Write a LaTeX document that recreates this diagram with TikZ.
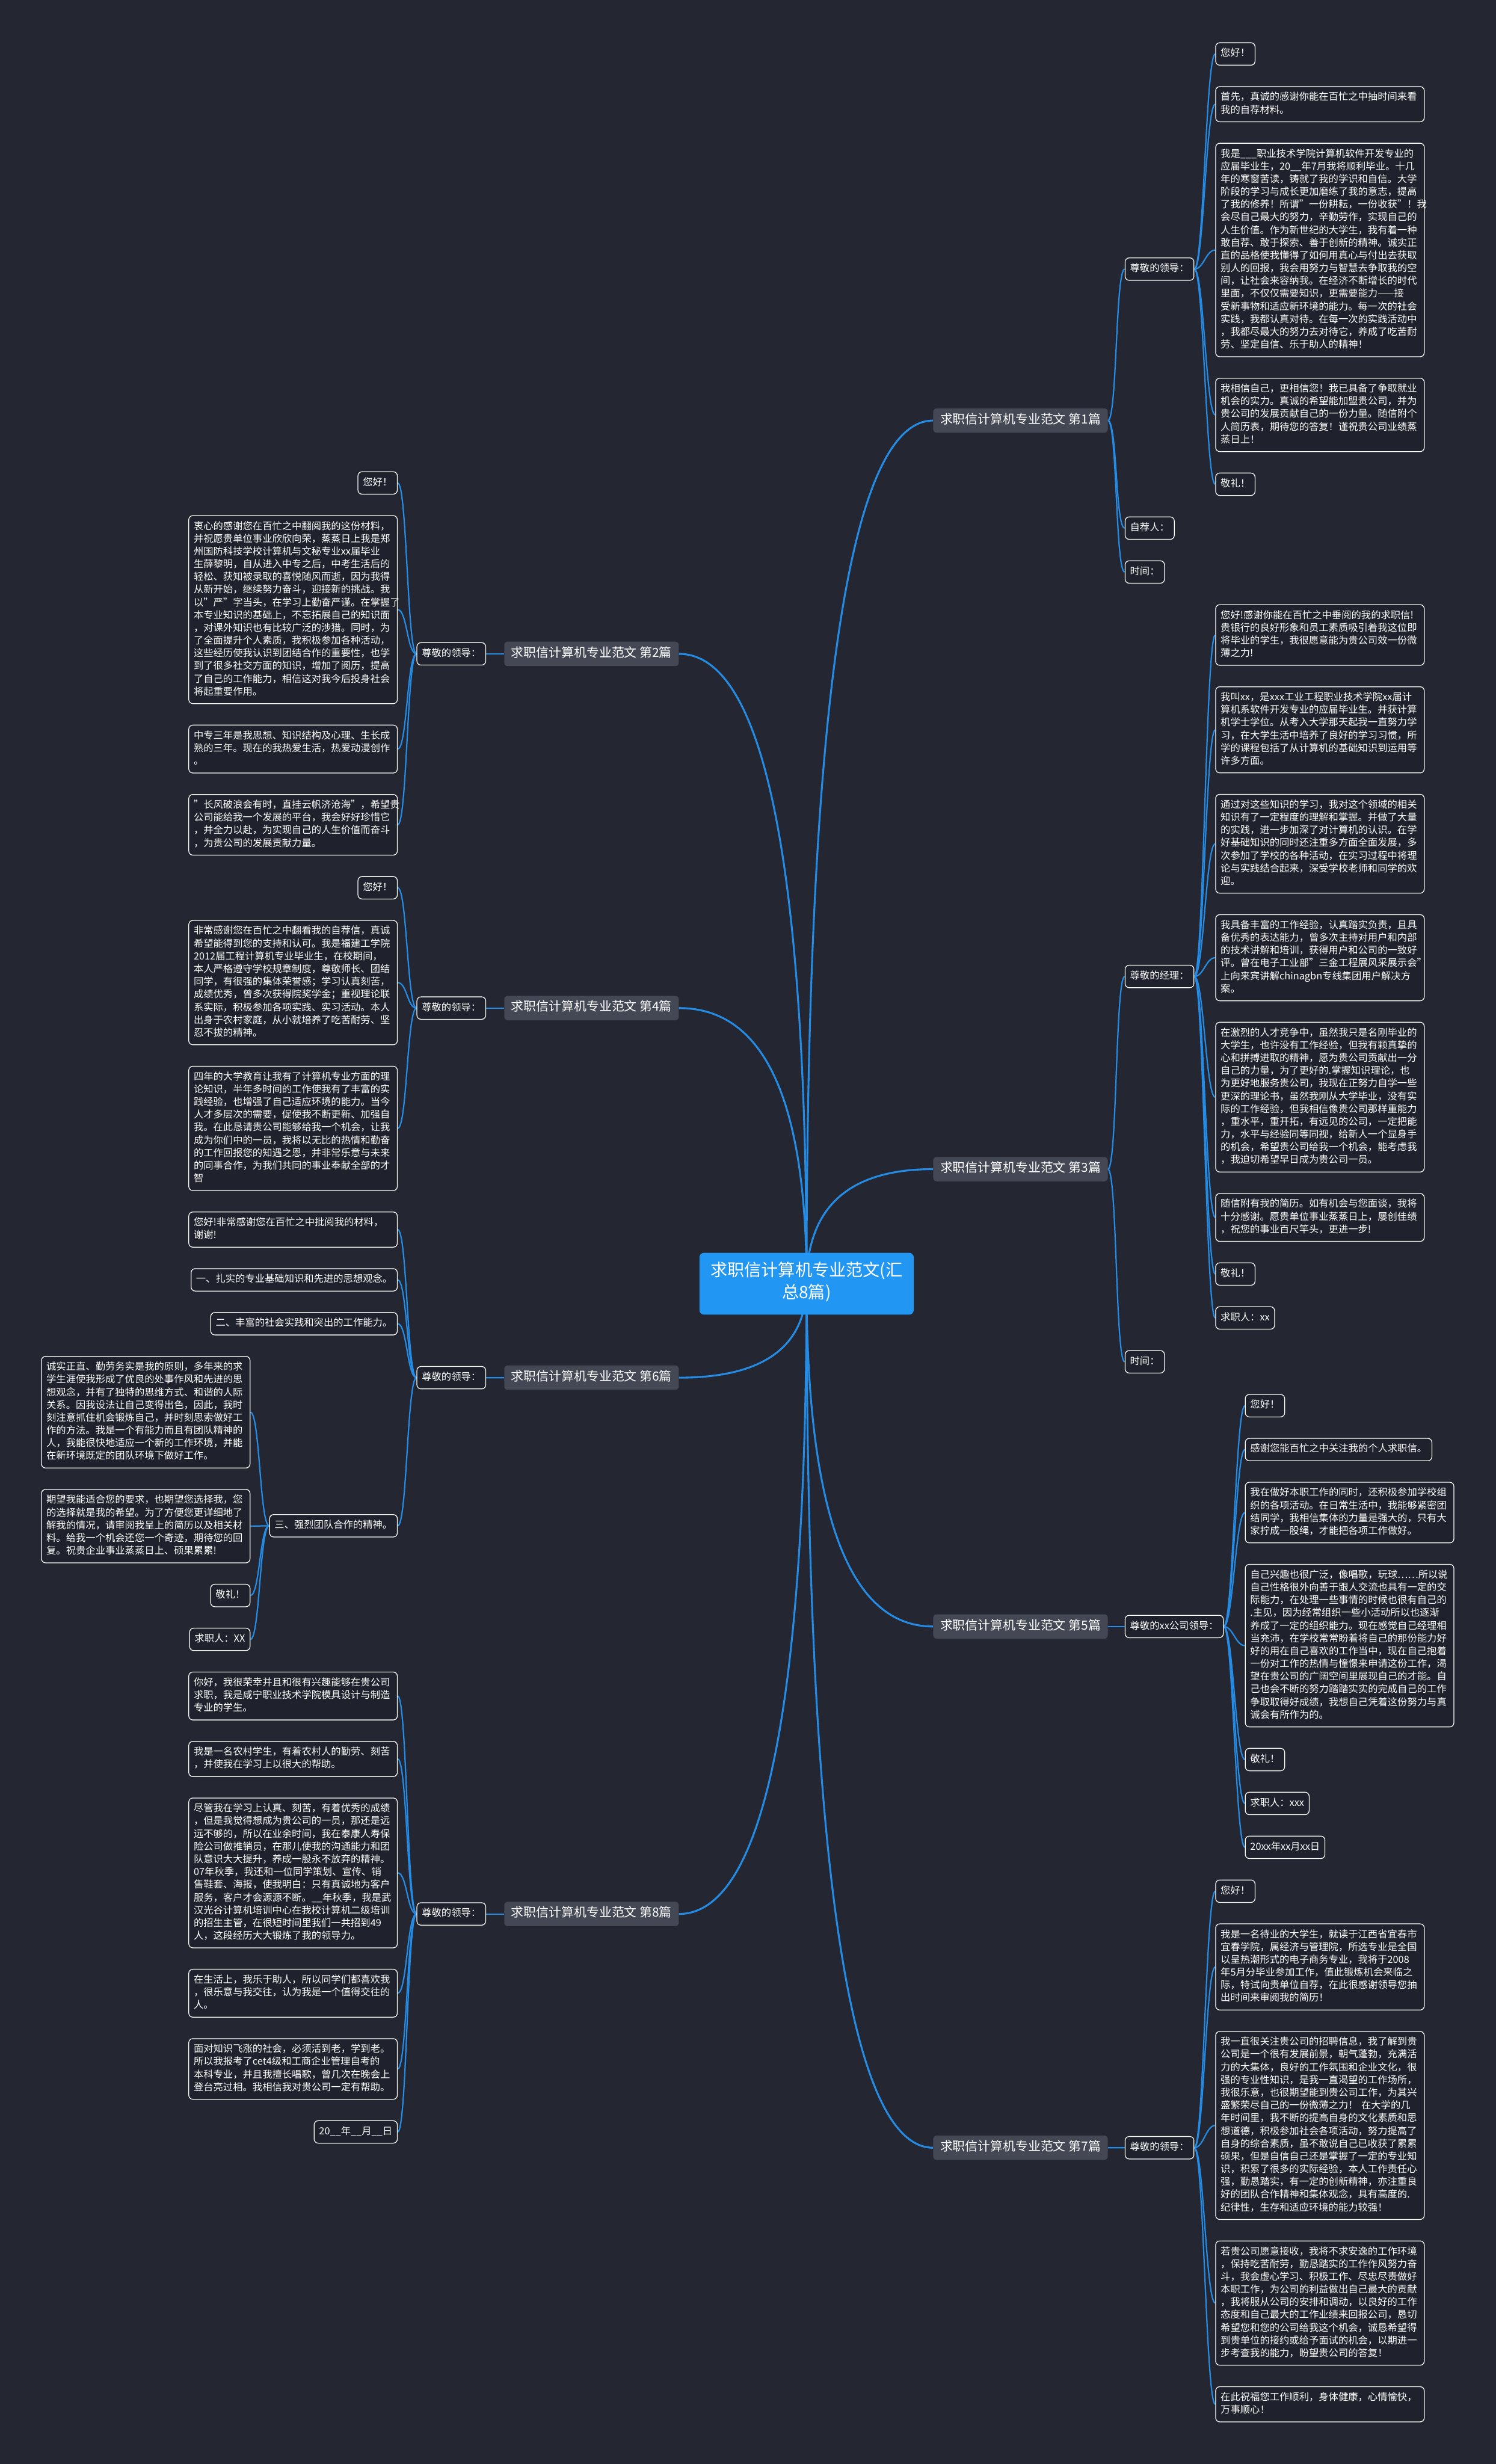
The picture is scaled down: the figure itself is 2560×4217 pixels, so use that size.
\documentclass[tikz,border=0pt]{standalone}
\usepackage{fontspec}
\setmainfont{Noto Sans CJK SC}
\usetikzlibrary{calc,positioning}
\definecolor{bgc}{RGB}{36,39,50}
\definecolor{boxc}{RGB}{31,34,44}
\definecolor{brc}{RGB}{68,72,85}
\definecolor{ctrc}{RGB}{33,150,243}
\definecolor{lnc}{RGB}{36,140,228}
\pgfdeclarelayer{bgl}\pgfdeclarelayer{lnk}\pgfsetlayers{bgl,lnk,main}
\newcommand\myfs{\fontsize{16.8}{21.8}\selectfont}
\newcommand\myfb{\fontsize{21.5}{25}\selectfont}
\newcommand\myfc{\fontsize{29}{38}\selectfont}
\newcommand\gapv{35.4pt}
\newcommand\stR[5]{\coordinate (#1t) at ([yshift=-\gapv]#2.south);\node[#4,anchor=north west] (#1) at (#1t -| #3) {#5};}
\newcommand\stL[5]{\coordinate (#1t) at ([yshift=-\gapv]#2.south);\node[#4,anchor=north east] (#1) at (#1t -| #3) {#5};}
\newcommand\paR[6]{\coordinate (#1m) at ($(#2.center)!0.5!(#3.center)$);\node[#5,anchor=west] (#1) at (#1m -| #4) {#6};}
\newcommand\paL[6]{\coordinate (#1m) at ($(#2.center)!0.5!(#3.center)$);\node[#5,anchor=east] (#1) at (#1m -| #4) {#6};}
\newcommand\lkR[2]{\draw[subl] (#1.east) .. controls +(16,0) and +(-16,0) .. (#2.west);}
\newcommand\lkL[2]{\draw[subl] (#1.west) .. controls +(-16,0) and +(16,0) .. (#2.east);}
\newcommand\lkM[1]{\draw[mainl] (ctr.center) .. controls ($(ctr.center)!0.667!(ctr.center |- #1)$) and ($(#1)!0.667!(ctr.center |- #1)$) .. (#1);}
\begin{document}
\begin{tikzpicture}[x=1pt,y=1pt,
  sbox/.style={draw=white, line width=1.3pt, fill=boxc, rounded corners=7pt, text=white, font=\myfs, inner xsep=8.5pt, inner ysep=8.3pt, execute at begin node=\strut, execute at end node=\strut},
  tbox/.style={sbox, text width=340pt, align=left},
  brs/.style={fill=brc, rounded corners=6pt, text=white, font=\myfb, inner xsep=12pt, inner ysep=8pt, execute at begin node=\strut, execute at end node=\strut},
  ctrs/.style={fill=ctrc, rounded corners=8pt, text=white, font=\myfc, align=center, inner xsep=19pt, inner ysep=16pt, execute at begin node=\strut, execute at end node=\strut},
  mainl/.style={draw=lnc, line width=3.2pt},
  subl/.style={draw=lnc, line width=2.3pt}]
\begin{pgfonlayer}{bgl}
\fill[bgc] (0,0) rectangle (2560,-4217);
\end{pgfonlayer}
\useasboundingbox (0,0) rectangle (2560,-4217);
\coordinate (xR3) at (2080,0);
\coordinate (xR3b) at (2130.7,0);
\coordinate (xR2) at (1925,0);
\coordinate (xRB) at (1597,0);
\coordinate (xL3) at (680.7,0);
\coordinate (xL4) at (428.6,0);
\coordinate (xL2) at (832,0);
\coordinate (xLB) at (1162,0);

\node[ctrs] (ctr) at (1380.5,-2197) {求职信计算机专业范文(汇\\总8篇)};

% ---------------- right side ----------------
\node[sbox,anchor=north west] (a1) at (2080,-72.5) {您好！};
\stR{a2}{a1}{xR3}{tbox}{首先，真诚的感谢你能在百忙之中抽时间来看\\我的自荐材料。}
\stR{a3}{a2}{xR3}{tbox}{我是\_\_\_职业技术学院计算机软件开发专业的\\应届毕业生，20\_\_年7月我将顺利毕业。十几\\年的寒窗苦读，铸就了我的学识和自信。大学\\阶段的学习与成长更加磨练了我的意志，提高\\了我的修养！所谓"一份耕耘，一份收获"！我\\会尽自己最大的努力，辛勤劳作，实现自己的\\人生价值。作为新世纪的大学生，我有着一种\\敢自荐、敢于探索、善于创新的精神。诚实正\\直的品格使我懂得了如何用真心与付出去获取\\别人的回报，我会用努力与智慧去争取我的空\\间，让社会来容纳我。在经济不断增长的时代\\里面，不仅仅需要知识，更需要能力——接\\受新事物和适应新环境的能力。每一次的社会\\实践，我都认真对待。在每一次的实践活动中\\，我都尽最大的努力去对待它，养成了吃苦耐\\劳、坚定自信、乐于助人的精神！}
\stR{a4}{a3}{xR3}{tbox}{我相信自己，更相信您！我已具备了争取就业\\机会的实力。真诚的希望能加盟贵公司，并为\\贵公司的发展贡献自己的一份力量。随信附个\\人简历表，期待您的答复！谨祝贵公司业绩蒸\\蒸日上！}
\stR{a5}{a4}{xR3}{sbox}{敬礼！}
\stR{a6}{a5}{xR2}{sbox}{自荐人：}
\stR{a7}{a6}{xR2}{sbox}{时间：}
\stR{c1}{a7}{xR3}{tbox}{您好!感谢你能在百忙之中垂阅的我的求职信!\\贵银行的良好形象和员工素质吸引着我这位即\\将毕业的学生，我很愿意能为贵公司效一份微\\薄之力!}
\stR{c2}{c1}{xR3}{tbox}{我叫xx，是xxx工业工程职业技术学院xx届计\\算机系软件开发专业的应届毕业生。并获计算\\机学士学位。从考入大学那天起我一直努力学\\习，在大学生活中培养了良好的学习习惯，所\\学的课程包括了从计算机的基础知识到运用等\\许多方面。}
\stR{c3}{c2}{xR3}{tbox}{通过对这些知识的学习，我对这个领域的相关\\知识有了一定程度的理解和掌握。并做了大量\\的实践，进一步加深了对计算机的认识。在学\\好基础知识的同时还注重多方面全面发展，多\\次参加了学校的各种活动，在实习过程中将理\\论与实践结合起来，深受学校老师和同学的欢\\迎。}
\stR{c4}{c3}{xR3}{tbox}{我具备丰富的工作经验，认真踏实负责，且具\\备优秀的表达能力，曾多次主持对用户和内部\\的技术讲解和培训，获得用户和公司的一致好\\评。曾在电子工业部"三金工程展风采展示会"\\上向来宾讲解chinagbn专线集团用户解决方\\案。}
\stR{c5}{c4}{xR3}{tbox}{在激烈的人才竞争中，虽然我只是名刚毕业的\\大学生，也许没有工作经验，但我有颗真挚的\\心和拼搏进取的精神，愿为贵公司贡献出一分\\自己的力量，为了更好的.掌握知识理论，也\\为更好地服务贵公司，我现在正努力自学一些\\更深的理论书，虽然我刚从大学毕业，没有实\\际的工作经验，但我相信像贵公司那样重能力\\，重水平，重开拓，有远见的公司，一定把能\\力，水平与经验同等同视，给新人一个显身手\\的机会，希望贵公司给我一个机会，能考虑我\\，我迫切希望早日成为贵公司一员。}
\stR{c6}{c5}{xR3}{tbox}{随信附有我的简历。如有机会与您面谈，我将\\十分感谢。愿贵单位事业蒸蒸日上，屡创佳绩\\，祝您的事业百尺竿头，更进一步!}
\stR{c7}{c6}{xR3}{sbox}{敬礼！}
\stR{c8}{c7}{xR3}{sbox}{求职人：xx}
\stR{c9}{c8}{xR2}{sbox}{时间：}
\stR{e1}{c9}{xR3b}{sbox}{您好！}
\stR{e2}{e1}{xR3b}{sbox}{感谢您能百忙之中关注我的个人求职信。}
\stR{e3}{e2}{xR3b}{tbox}{我在做好本职工作的同时，还积极参加学校组\\织的各项活动。在日常生活中，我能够紧密团\\结同学，我相信集体的力量是强大的，只有大\\家拧成一股绳，才能把各项工作做好。}
\stR{e4}{e3}{xR3b}{tbox}{自己兴趣也很广泛，像唱歌，玩球……所以说\\自己性格很外向善于跟人交流也具有一定的交\\际能力，在处理一些事情的时候也很有自己的\\.主见，因为经常组织一些小活动所以也逐渐\\养成了一定的组织能力。现在感觉自己经理相\\当充沛，在学校常常盼着将自己的那份能力好\\好的用在自己喜欢的工作当中，现在自己抱着\\一份对工作的热情与憧憬来申请这份工作，渴\\望在贵公司的广阔空间里展现自己的才能。自\\己也会不断的努力踏踏实实的完成自己的工作\\争取取得好成绩，我想自己凭着这份努力与真\\诚会有所作为的。}
\stR{e5}{e4}{xR3b}{sbox}{敬礼！}
\stR{e6}{e5}{xR3b}{sbox}{求职人：xxx}
\stR{e7}{e6}{xR3b}{sbox}{20xx年xx月xx日}
\stR{g1}{e7}{xR3}{sbox}{您好！}
\stR{g2}{g1}{xR3}{tbox}{我是一名待业的大学生，就读于江西省宜春市\\宜春学院，属经济与管理院，所选专业是全国\\以呈热潮形式的电子商务专业，我将于2008\\年5月分毕业参加工作，值此锻炼机会来临之\\际，特试向贵单位自荐，在此很感谢领导您抽\\出时间来审阅我的简历！}
\stR{g3}{g2}{xR3}{tbox}{我一直很关注贵公司的招聘信息，我了解到贵\\公司是一个很有发展前景，朝气蓬勃，充满活\\力的大集体，良好的工作氛围和企业文化，很\\强的专业性知识，是我一直渴望的工作场所，\\我很乐意，也很期望能到贵公司工作，为其兴\\盛繁荣尽自己的一份微薄之力！ 在大学的几\\年时间里，我不断的提高自身的文化素质和思\\想道德，积极参加社会各项活动，努力提高了\\自身的综合素质，虽不敢说自己已收获了累累\\硕果，但是自信自己还是掌握了一定的专业知\\识，积累了很多的实际经验，本人工作责任心\\强，勤恳踏实，有一定的创新精神，亦注重良\\好的团队合作精神和集体观念，具有高度的.\\纪律性，生存和适应环境的能力较强！}
\stR{g4}{g3}{xR3}{tbox}{若贵公司愿意接收，我将不求安逸的工作环境\\，保持吃苦耐劳，勤恳踏实的工作作风努力奋\\斗，我会虚心学习、积极工作、尽忠尽责做好\\本职工作，为公司的利益做出自己最大的贡献\\，我将服从公司的安排和调动，以良好的工作\\态度和自己最大的工作业绩来回报公司，恳切\\希望您和您的公司给我这个机会，诚恳希望得\\到贵单位的接约或给予面试的机会，以期进一\\步考查我的能力，盼望贵公司的答复！}
\stR{g5}{g4}{xR3}{tbox}{在此祝福您工作顺利，身体健康，心情愉快，\\万事顺心！}

\paR{A}{a1}{a5}{xR2}{sbox}{尊敬的领导：}
\paR{b1}{A}{a7}{xRB}{brs}{求职信计算机专业范文 第1篇}
\paR{C}{c1}{c8}{xR2}{sbox}{尊敬的经理：}
\paR{b3}{C}{c9}{xRB}{brs}{求职信计算机专业范文 第3篇}
\paR{E}{e1}{e7}{xR2}{sbox}{尊敬的xx公司领导：}
\paR{b5}{E}{E}{xRB}{brs}{求职信计算机专业范文 第5篇}
\paR{G}{g1}{g5}{xR2}{sbox}{尊敬的领导：}
\paR{b7}{G}{G}{xRB}{brs}{求职信计算机专业范文 第7篇}

% ---------------- left side ----------------
\node[sbox,anchor=north east] (h1) at (680.7,-806.7) {您好！};
\stL{h2}{h1}{xL3}{tbox}{衷心的感谢您在百忙之中翻阅我的这份材料，\\并祝愿贵单位事业欣欣向荣，蒸蒸日上我是郑\\州国防科技学校计算机与文秘专业xx届毕业\\生薛黎明，自从进入中专之后，中考生活后的\\轻松、获知被录取的喜悦随风而逝，因为我得\\从新开始，继续努力奋斗，迎接新的挑战。我\\以"严"字当头，在学习上勤奋严谨。在掌握了\\本专业知识的基础上，不忘拓展自己的知识面\\，对课外知识也有比较广泛的涉猎。同时，为\\了全面提升个人素质，我积极参加各种活动，\\这些经历使我认识到团结合作的重要性，也学\\到了很多社交方面的知识，增加了阅历，提高\\了自己的工作能力，相信这对我今后投身社会\\将起重要作用。}
\stL{h3}{h2}{xL3}{tbox}{中专三年是我思想、知识结构及心理、生长成\\熟的三年。现在的我热爱生活，热爱动漫创作\\。}
\stL{h4}{h3}{xL3}{tbox}{"长风破浪会有时，直挂云帆济沧海"，希望贵\\公司能给我一个发展的平台，我会好好珍惜它\\，并全力以赴，为实现自己的人生价值而奋斗\\，为贵公司的发展贡献力量。}
\stL{k1}{h4}{xL3}{sbox}{您好！}
\stL{k2}{k1}{xL3}{tbox}{非常感谢您在百忙之中翻看我的自荐信，真诚\\希望能得到您的支持和认可。我是福建工学院\\2012届工程计算机专业毕业生，在校期间，\\本人严格遵守学校规章制度，尊敬师长、团结\\同学，有很强的集体荣誉感；学习认真刻苦，\\成绩优秀，曾多次获得院奖学金；重视理论联\\系实际，积极参加各项实践、实习活动。本人\\出身于农村家庭，从小就培养了吃苦耐劳、坚\\忍不拔的精神。}
\stL{k3}{k2}{xL3}{tbox}{四年的大学教育让我有了计算机专业方面的理\\论知识，半年多时间的工作使我有了丰富的实\\践经验，也增强了自己适应环境的能力。当今\\人才多层次的需要，促使我不断更新、加强自\\我。在此恳请贵公司能够给我一个机会，让我\\成为你们中的一员，我将以无比的热情和勤奋\\的工作回报您的知遇之恩，并非常乐意与未来\\的同事合作，为我们共同的事业奉献全部的才\\智}
\stL{m1}{k3}{xL3}{tbox}{您好!非常感谢您在百忙之中批阅我的材料，\\谢谢!}
\stL{m2}{m1}{xL3}{sbox}{一、扎实的专业基础知识和先进的思想观念。}
\stL{m3}{m2}{xL3}{sbox}{二、丰富的社会实践和突出的工作能力。}
\stL{n1}{m3}{xL4}{tbox}{诚实正直、勤劳务实是我的原则，多年来的求\\学生涯使我形成了优良的处事作风和先进的思\\想观念，并有了独特的思维方式、和谐的人际\\关系。因我设法让自己变得出色，因此，我时\\刻注意抓住机会锻炼自己，并时刻思索做好工\\作的方法。我是一个有能力而且有团队精神的\\人，我能很快地适应一个新的工作环境，并能\\在新环境既定的团队环境下做好工作。}
\stL{n2}{n1}{xL4}{tbox}{期望我能适合您的要求，也期望您选择我，您\\的选择就是我的希望。为了方便您更详细地了\\解我的情况，请审阅我呈上的简历以及相关材\\料。给我一个机会还您一个奇迹，期待您的回\\复。祝贵企业事业蒸蒸日上、硕果累累!}
\stL{n3}{n2}{xL4}{sbox}{敬礼！}
\stL{n4}{n3}{xL4}{sbox}{求职人：XX}
\stL{p1}{n4}{xL3}{tbox}{你好，我很荣幸并且和很有兴趣能够在贵公司\\求职，我是咸宁职业技术学院模具设计与制造\\专业的学生。}
\stL{p2}{p1}{xL3}{tbox}{我是一名农村学生，有着农村人的勤劳、刻苦\\，并使我在学习上以很大的帮助。}
\stL{p3}{p2}{xL3}{tbox}{尽管我在学习上认真、刻苦，有着优秀的成绩\\，但是我觉得想成为贵公司的一员，那还是远\\远不够的，所以在业余时间，我在泰康人寿保\\险公司做推销员，在那儿使我的沟通能力和团\\队意识大大提升，养成一股永不放弃的精神。\\07年秋季，我还和一位同学策划、宣传、销\\售鞋套、海报，使我明白：只有真诚地为客户\\服务，客户才会源源不断。\_\_年秋季，我是武\\汉光谷计算机培训中心在我校计算机二级培训\\的招生主管，在很短时间里我们一共招到49\\人，这段经历大大锻炼了我的领导力。}
\stL{p4}{p3}{xL3}{tbox}{在生活上，我乐于助人，所以同学们都喜欢我\\，很乐意与我交往，认为我是一个值得交往的\\人。}
\stL{p5}{p4}{xL3}{tbox}{面对知识飞涨的社会，必须活到老，学到老。\\所以我报考了cet4级和工商企业管理自考的\\本科专业，并且我擅长唱歌，曾几次在晚会上\\登台亮过相。我相信我对贵公司一定有帮助。}
\stL{p6}{p5}{xL3}{sbox}{20\_\_年\_\_月\_\_日}

\paL{H}{h1}{h4}{xL2}{sbox}{尊敬的领导：}
\paL{b2}{H}{H}{xLB}{brs}{求职信计算机专业范文 第2篇}
\paL{K}{k1}{k3}{xL2}{sbox}{尊敬的领导：}
\paL{b4}{K}{K}{xLB}{brs}{求职信计算机专业范文 第4篇}
\paL{N}{n1}{n4}{xL3}{sbox}{三、强烈团队合作的精神。}
\paL{M}{m1}{N}{xL2}{sbox}{尊敬的领导：}
\paL{b6}{M}{M}{xLB}{brs}{求职信计算机专业范文 第6篇}
\paL{P}{p1}{p6}{xL2}{sbox}{尊敬的领导：}
\paL{b8}{P}{P}{xLB}{brs}{求职信计算机专业范文 第8篇}

\begin{pgfonlayer}{lnk}
\lkM{b1.west}\lkM{b3.west}\lkM{b5.west}\lkM{b7.west}
\lkM{b2.east}\lkM{b4.east}\lkM{b6.east}\lkM{b8.east}
\lkR{b1}{A}\lkR{b1}{a6}\lkR{b1}{a7}
\lkR{b3}{C}\lkR{b3}{c9}
\lkR{b5}{E}\lkR{b7}{G}
\lkL{b2}{H}\lkL{b4}{K}\lkL{b6}{M}\lkL{b8}{P}
\foreach \i in {1,...,5}{\lkR{A}{a\i}}
\foreach \i in {1,...,8}{\lkR{C}{c\i}}
\foreach \i in {1,...,7}{\lkR{E}{e\i}}
\foreach \i in {1,...,5}{\lkR{G}{g\i}}
\foreach \i in {1,...,4}{\lkL{H}{h\i}}
\foreach \i in {1,...,3}{\lkL{K}{k\i}}
\foreach \i in {1,...,3}{\lkL{M}{m\i}}
\lkL{M}{N}
\foreach \i in {1,...,4}{\lkL{N}{n\i}}
\foreach \i in {1,...,6}{\lkL{P}{p\i}}
\end{pgfonlayer}
\end{tikzpicture}
\end{document}
